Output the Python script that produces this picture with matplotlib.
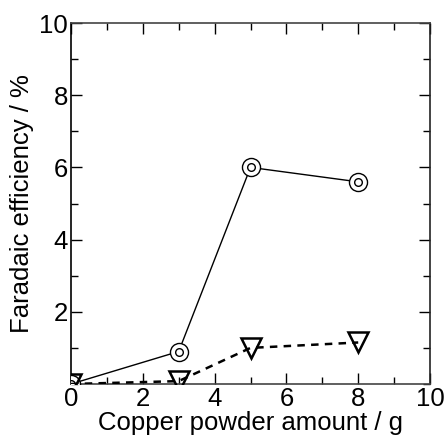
import matplotlib
matplotlib.use("Agg")
import matplotlib.pyplot as plt
from matplotlib.ticker import MultipleLocator

plt.rcParams['font.family'] = ['Liberation Sans', 'DejaVu Sans']

copper_g = [0, 3, 5, 8]
fe_circle = [0.0, 0.9, 6.0, 5.6]
fe_triangle = [0.0, 0.08, 1.0, 1.15]

fig = plt.figure(figsize=(4.44, 4.36), dpi=100)
ax = fig.add_axes([71/444, 1 - 384/436, (430-71)/444, (384-23)/436])

ax.plot(copper_g, fe_circle, color='black', lw=1.0, marker='o', ms=13,
        mfc='white', mec='black', mew=1.0, zorder=3)
ax.plot(copper_g, fe_circle, ls='none', marker='o', ms=5.5,
        mfc='none', mec='black', mew=1.0, zorder=4)
ax.plot(copper_g, fe_triangle, color='black', lw=1.8, ls=(0, (3, 2.5)),
        marker='v', ms=15, mfc='none', mec='black', mew=1.8, zorder=5)

ax.set_xlim(0, 10)
ax.set_ylim(0, 10)
ax.xaxis.set_major_locator(MultipleLocator(2))
ax.xaxis.set_minor_locator(MultipleLocator(1))
ax.yaxis.set_major_locator(MultipleLocator(2))
ax.yaxis.set_minor_locator(MultipleLocator(1))
ax.set_yticks([2, 4, 6, 8, 10])
ax.tick_params(which='both', direction='in', top=True, right=True,
               labelsize=18.5, pad=2)
ax.tick_params(which='major', length=8, width=1)
ax.tick_params(which='minor', length=5, width=1)
for s in ax.spines.values():
    s.set_linewidth(1.2)
ax.spines['bottom'].set_color('#444444')
ax.spines['top'].set_color('#444444')
ax.spines['right'].set_color('#222222')

ax.set_xlabel('Copper powder amount / g', fontsize=18.5, labelpad=0)
ax.set_ylabel('Faradaic efficiency / %', fontsize=18.5, labelpad=4)

fig.savefig('out.png', dpi=100)
